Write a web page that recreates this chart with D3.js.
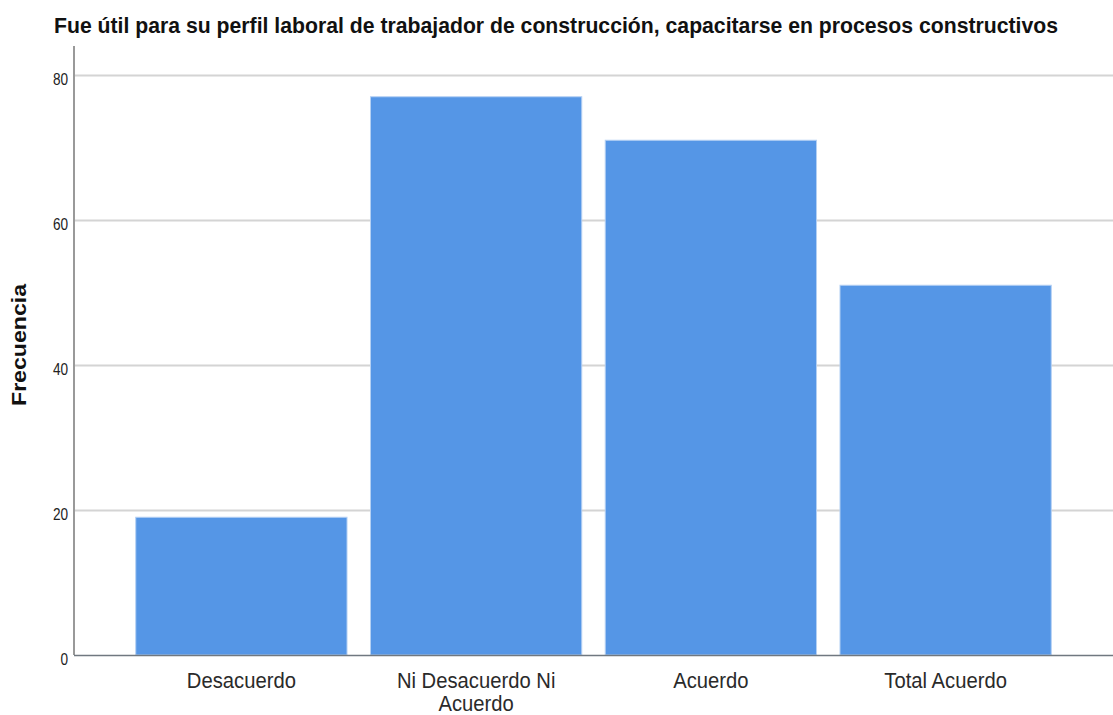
<!DOCTYPE html>
<html><head><meta charset="utf-8">
<script src="https://cdn.jsdelivr.net/npm/d3@7"></script>
<style>body{margin:0;background:#fff}svg{display:block}</style>
</head><body>
<svg id="c" width="1113" height="715"></svg>
<script>
const categories = ["Desacuerdo", "Ni Desacuerdo Ni Acuerdo", "Acuerdo", "Total Acuerdo"];
const categoryLines = [["Desacuerdo"], ["Ni Desacuerdo Ni", "Acuerdo"], ["Acuerdo"], ["Total Acuerdo"]];
const frecuencia = [19, 77, 71, 51];
const yTicks = [0, 20, 40, 60, 80];
const title = "Fue útil para su perfil laboral de trabajador de construcción, capacitarse en procesos constructivos";
const yLabel = "Frecuencia";

(function () {
const svg = d3.select("#c");
const FONT = "Liberation Sans, Arial, sans-serif";
const pLeft = 74, pRight = 1113, pTop = 46, pBottom = 655;
const x = d3.scaleBand().domain(categories).range([pLeft, pRight]).paddingInner(0.1).paddingOuter(0.263);
const y = d3.scaleLinear().domain([0, 84]).range([pBottom, pTop]);

// gridlines
svg.append("g").selectAll("line").data(yTicks.filter(d => d > 0)).join("line")
  .attr("x1", pLeft).attr("x2", pRight)
  .attr("y1", d => y(d) + 0.5).attr("y2", d => y(d) + 0.5)
  .attr("stroke", "#d4d4d4").attr("stroke-width", 2);

// bars
svg.append("g").selectAll("rect").data(categories).join("rect")
  .attr("x", d => x(d)).attr("width", x.bandwidth())
  .attr("y", (d, i) => y(frecuencia[i])).attr("height", (d, i) => y(0) - y(frecuencia[i]))
  .attr("fill", "#5596e6").attr("stroke", "#b5d0f3").attr("stroke-width", 1);

// y axis
const ya = svg.append("g").attr("transform", `translate(${pLeft},0)`)
  .call(d3.axisLeft(y).tickValues(yTicks).tickSize(0).tickPadding(8));
ya.select(".domain").attr("stroke", "#999").attr("stroke-width", 2).attr("d", `M0,${pTop}V${pBottom}`);
ya.selectAll("text").attr("font-family", FONT).attr("font-size", 17).attr("fill", "#222")
  .attr("x", -7.5).attr("y", 9.5).attr("dy", null).attr("transform", "scale(0.8,1)");

// x baseline
svg.append("line").attr("x1", pLeft).attr("x2", pRight).attr("y1", pBottom + 0.5).attr("y2", pBottom + 0.5)
  .attr("stroke", "#707880").attr("stroke-width", 1.5);

// x labels
const xl = svg.append("g").selectAll("text").data(categories).join("text")
  .attr("transform", d => `translate(${x(d) + x.bandwidth() / 2},688) scale(0.92,1)`)
  .attr("text-anchor", "middle").attr("font-family", FONT)
  .attr("font-size", 22).attr("fill", "#2a2a2a");
xl.each(function(d, i) {
  const t = d3.select(this);
  categoryLines[i].forEach((ln, j) => {
    t.append("tspan").attr("x", 0).attr("dy", j === 0 ? 0 : 23).text(ln);
  });
});

// title
svg.append("text").attr("x", 54).attr("y", 33).attr("font-family", FONT)
  .attr("font-weight", "bold").attr("font-size", 22).attr("fill", "#111")
  .attr("textLength", 1004).attr("lengthAdjust", "spacingAndGlyphs").text(title);

// y label
svg.append("text").attr("transform", "translate(26,345) rotate(-90)").attr("text-anchor", "middle")
  .attr("font-family", FONT).attr("font-weight", "bold")
  .attr("font-size", 21).attr("fill", "#111")
  .attr("textLength", 122).attr("lengthAdjust", "spacingAndGlyphs").text(yLabel);
})();
</script>
</body></html>
